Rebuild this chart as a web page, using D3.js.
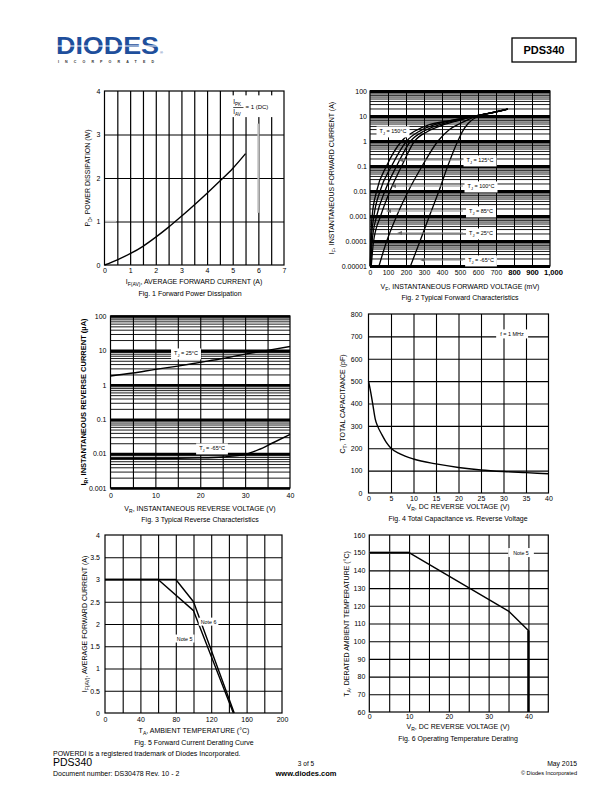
<!DOCTYPE html>
<html><head><meta charset="utf-8">
<script src="https://cdn.jsdelivr.net/npm/d3@7"></script>
<style>body{margin:0;background:#fff} svg{display:block} text{font-family:"Liberation Sans",Arial,Helvetica,sans-serif}</style>
</head><body><svg id="c" width="612" height="792"></svg>
<script>
// ---------------- DATA ----------------
// Fig 1
const fig1Current = [0, 0.5, 1, 1.5, 2, 2.5, 3, 3.5, 4, 4.5, 5, 5.5];
const fig1Power   = [0, 0.12, 0.26, 0.43, 0.64, 0.87, 1.12, 1.38, 1.65, 1.93, 2.22, 2.56];
const fig1XTicks = ["0","1","2","3","4","5","6","7"];
const fig1YTicks = ["0","1","2","3","4"];
// Fig 2  [mV, A]
const fig2Tj150 = [[1,1e-5],[4,1e-4],[12,1e-3],[37,0.01],[92,0.1],[176,1],[250,2.5],[330,4.5],[444,6.5],[550,9],[650,12.5],[765,19]];
const fig2Tj125 = [[2,1e-5],[7,1e-4],[22,1e-3],[56,0.01],[120,0.1],[204,1],[280,2.6],[360,4.5],[460,6.8],[560,9.3],[660,12.8],[765,19]];
const fig2Tj100 = [[4,1e-5],[12,1e-4],[37,1e-3],[83,0.01],[148,0.1],[226,1],[300,2.5],[380,4.3],[470,6.5],[570,9.5],[665,13],[765,19]];
const fig2Tj85  = [[7,1e-5],[20,1e-4],[59,1e-3],[111,0.01],[176,0.1],[248,1],[320,2.4],[400,4.2],[480,6.3],[580,9.6],[670,13.2],[765,19]];
const fig2Tj25  = [[50,1e-5],[93,1e-4],[148,1e-3],[213,0.01],[290,0.1],[378,1],[440,2.8],[500,5],[590,9.7],[680,13.5],[765,19]];
const fig2TjM65 = [[225,1e-5],[278,1e-4],[330,1e-3],[383,0.01],[432,0.1],[488,1],[515,2.5],[545,5],[600,9.8],[690,14],[765,19]];
const fig2XTicks = ["0","100","200","300","400","500","600","700","800","900","1,000"];
const fig2YTicks = ["0.00001","0.0001","0.001","0.01","0.1","1","10","100"];
// Fig 3
const fig3Voltage = [0, 5, 10, 15, 20, 25, 30, 35, 40];
const fig3Tj25  = [1.8, 2.2, 2.8, 3.5, 4.5, 5.8, 7.8, 10, 13];
const fig3VoltageM65 = [0, 10, 20, 25, 30, 33, 36, 40];
const fig3TjM65 = [0.0072, 0.0072, 0.0075, 0.008, 0.0095, 0.013, 0.02, 0.036];
const fig3XTicks = ["0","10","20","30","40"];
const fig3YTicks = ["0.001","0.01","0.1","1","10","100"];
// Fig 4
const fig4Voltage = [0, 0.5, 1, 1.5, 2, 3, 4, 5, 7, 10, 15, 20, 25, 30, 35, 40];
const fig4Cap     = [500, 450, 390, 330, 300, 260, 225, 200, 175, 152, 130, 114, 103, 96, 91, 86];
const fig4XTicks = ["0","5","10","15","20","25","30","35","40"];
const fig4YTicks = ["0","100","200","300","400","500","600","700","800"];
// Fig 5
const fig5Note6Temp = [0, 80, 100, 146];
const fig5Note6Curr = [3, 3, 2.5, 0];
const fig5Note5Temp = [0, 60, 100, 145];
const fig5Note5Curr = [3, 3, 2.3, 0];
const fig5XTicks = ["0","40","80","120","160","200"];
const fig5YTicks = ["0","0.5","1","1.5","2","2.5","3","3.5","4"];
// Fig 6
const fig6Voltage = [0, 10, 35, 40, 40];
const fig6Temp    = [150, 150, 117, 106, 60];
const fig6XTicks = ["0","10","20","30","40"];
const fig6YTicks = ["60","70","80","90","100","110","120","130","140","150","160"];

// ---------------- HELPERS ----------------
const FONT = '"Liberation Sans", Arial, Helvetica, sans-serif';
const svg = d3.select("#c");

function txt(g, x, y, parts, o = {}) {
  const size = o.size || 7;
  const t = g.append("text").attr("x", x).attr("y", y)
    .attr("font-size", size).attr("text-anchor", o.anchor || "start")
    .attr("font-weight", o.weight || "normal").attr("fill", o.fill || "#000")
    .attr("font-family", FONT);
  if (o.rotate) t.attr("transform", `rotate(${o.rotate},${x},${y})`);
  if (typeof parts === "string") parts = [[parts]];
  let shifted = false;
  parts.forEach(([s, sub]) => {
    const ts = t.append("tspan").text(s);
    if (sub) { ts.attr("font-size", size * 0.72); if (!shifted) { ts.attr("dy", 2); shifted = true; } }
    else if (shifted) { ts.attr("dy", -2); shifted = false; }
  });
  return t;
}
function boxLabel(g, cx, cy, parts, size, padX = 3, padY = 1.5) {
  const t = txt(g, cx, cy + size * 0.35, parts, { size, anchor: "middle" });
  const bb = t.node().getBBox();
  g.insert("rect", () => t.node()).attr("x", bb.x - padX).attr("y", bb.y - padY)
    .attr("width", bb.width + 2 * padX).attr("height", bb.height + 2 * padY).attr("fill", "#fff");
  return t;
}
function gridX(g, x, y, vals, w) {
  const [b, t] = y.range();
  const a = g.append("g").attr("transform", `translate(0,${b})`)
    .call(d3.axisBottom(x).tickValues(vals).tickSize(-(b - t)).tickFormat(""));
  a.select(".domain").remove();
  a.selectAll("line").attr("stroke", "#000").attr("stroke-width", w);
}
function gridY(g, x, y, vals, w) {
  const [l, r] = x.range();
  const a = g.append("g").attr("transform", `translate(${l},0)`)
    .call(d3.axisLeft(y).tickValues(vals).tickSize(-(r - l)).tickFormat(""));
  a.select(".domain").remove();
  a.selectAll("line").attr("stroke", "#000").attr("stroke-width", w);
}
function labelsX(g, x, y, vals, fmt, size, pad) {
  const b = y.range()[0];
  const a = g.append("g").attr("transform", `translate(0,${b})`)
    .call(d3.axisBottom(x).tickValues(vals).tickSize(0).tickPadding(pad).tickFormat((d, i) => fmt[i]));
  a.select(".domain").remove();
  a.selectAll("text").attr("font-size", size).attr("font-family", FONT).attr("fill", "#000");
  return a;
}
function labelsY(g, x, y, vals, fmt, size, pad) {
  const l = x.range()[0];
  const a = g.append("g").attr("transform", `translate(${l},0)`)
    .call(d3.axisLeft(y).tickValues(vals).tickSize(0).tickPadding(pad).tickFormat((d, i) => fmt[i]));
  a.select(".domain").remove();
  a.selectAll("text").attr("font-size", size).attr("font-family", FONT).attr("fill", "#000");
  return a;
}
function frame(g, x, y, w) {
  const [l, r] = x.range(), [b, t] = y.range();
  g.append("rect").attr("x", l).attr("y", t).attr("width", r - l).attr("height", b - t)
    .attr("fill", "none").attr("stroke", "#000").attr("stroke-width", w);
}
function logGrid(lo, hi) {
  const minor = [], major = [];
  for (let e = Math.round(Math.log10(lo)); e <= Math.round(Math.log10(hi)); e++) {
    major.push(Math.pow(10, e));
    if (e < Math.round(Math.log10(hi))) for (let k = 2; k <= 9; k++) minor.push(k * Math.pow(10, e));
  }
  return { minor, major };
}
function curve(g, x, y, xs, ys, w, c = "#000", cv = d3.curveMonotoneX) {
  const pts = xs.map((v, i) => [v, ys[i]]);
  g.append("path").datum(pts).attr("fill", "none").attr("stroke", c).attr("stroke-width", w)
    .attr("stroke-linejoin", "round")
    .attr("d", d3.line().x(d => x(d[0])).y(d => y(d[1])).curve(cv));
}

// ---------------- HEADER ----------------
const hdr = svg.append("g");
hdr.append("text").attr("x", 56).attr("y", 54).attr("font-size", 24).attr("font-weight", "bold")
  .attr("font-family", FONT).attr("fill", "#1f4f9c").attr("textLength", 103).attr("lengthAdjust", "spacingAndGlyphs")
  .text("DIODES");
hdr.append("line").attr("x1", 55).attr("x2", 160).attr("y1", 46).attr("y2", 46).attr("stroke", "#fff").attr("stroke-width", 1.2);
hdr.append("text").attr("x", 160).attr("y", 54).attr("font-size", 4).attr("fill", "#1f4f9c").attr("font-family", FONT).text("®");
hdr.append("text").attr("x", 58).attr("y", 62.5).attr("font-size", 3.6).attr("font-weight", "bold").attr("fill", "#333")
  .attr("font-family", FONT).attr("textLength", 96).attr("lengthAdjust", "spacing").text("INCORPORATED");
hdr.append("rect").attr("x", 512).attr("y", 38).attr("width", 64).attr("height", 24)
  .attr("fill", "none").attr("stroke", "#000").attr("stroke-width", 1.3);
txt(hdr, 544, 54, "PDS340", { size: 11, anchor: "middle", weight: "bold" });

// ---------------- FIG 1 ----------------
{
  const g = svg.append("g");
  const x = d3.scaleLinear().domain([0, 7]).range([104.5, 284]);
  const y = d3.scaleLinear().domain([0, 4]).range([265, 91]);
  gridX(g, x, y, d3.range(0.5, 7, 0.5), 1.2);
  gridY(g, x, y, [1, 2, 3], 1);
  g.append("line").attr("x1", x(6)).attr("x2", x(6)).attr("y1", y(1.2)).attr("y2", y(3.25)).attr("stroke", "#bbb").attr("stroke-width", 2);
  g.append("line").attr("x1", x(0)).attr("x2", x(0.45)).attr("y1", y(1)).attr("y2", y(1)).attr("stroke", "#bbb").attr("stroke-width", 1.5);
  frame(g, x, y, 1.2);
  curve(g, x, y, fig1Current, fig1Power, 1.4);
  // legend fraction
  const lg = g.append("g");
  lg.append("rect").attr("x", x(4.95)).attr("y", y(3.9)).attr("width", x(6.65) - x(4.95)).attr("height", y(3.4) - y(3.9)).attr("fill", "#fff");
  txt(lg, x(5.02), y(3.7), [["I"], ["PK", 1]], { size: 6.3 });
  lg.append("line").attr("x1", x(5.02)).attr("x2", x(5.42)).attr("y1", y(3.62)).attr("y2", y(3.62)).attr("stroke", "#000").attr("stroke-width", 0.7);
  txt(lg, x(5.02), y(3.47), [["I"], ["AV", 1]], { size: 6.3 });
  txt(lg, x(5.5), y(3.58), "= 1 (DC)", { size: 6 });
  labelsX(g, x, y, d3.range(0, 8), fig1XTicks, 7, 3);
  labelsY(g, x, y, d3.range(0, 5), fig1YTicks, 7, 4);
  txt(g, 194, 284, [["I"], ["F(AV)", 1], [", AVERAGE FORWARD CURRENT (A)"]], { size: 7, anchor: "middle" });
  txt(g, 90, 178, [["P"], ["D", 1], [", POWER DISSIPATION (W)"]], { size: 7, anchor: "middle", rotate: -90 });
  txt(g, 190, 296, "Fig. 1  Forward Power Dissipation", { size: 7, anchor: "middle" });
}

// ---------------- FIG 2 ----------------
{
  const g = svg.append("g");
  const x = d3.scaleLinear().domain([0, 1000]).range([370, 550]);
  const y = d3.scaleLog().domain([1e-5, 100]).range([266, 91]);
  const lgd = logGrid(1e-5, 100);
  gridX(g, x, y, d3.range(100, 1000, 100), 1);
  gridY(g, x, y, lgd.minor, 0.9);
  gridY(g, x, y, lgd.major, 2.8);
  frame(g, x, y, 1.2);
  [fig2Tj150, fig2Tj125, fig2Tj100, fig2Tj85, fig2Tj25, fig2TjM65].forEach(c =>
    curve(g, x, y, c.map(d => d[0]), c.map(d => d[1]), 1.3));
  const ann = [
    ["150", 393, 131, null],
    ["125", 480, 160, 398],
    ["100", 481, 186, 391],
    ["85", 481, 211, 386],
    ["25", 481, 233, 397],
    ["-65", 481, 260, 420]
  ];
  ann.forEach(([t, cx, cy, tip]) => {
    if (tip !== null) {
      g.append("line").attr("x1", tip + 3).attr("x2", cx - 18).attr("y1", cy).attr("y2", cy).attr("stroke", "#888").attr("stroke-width", 1.2);
      g.append("path").attr("d", `M${tip},${cy} l5,-2 l0,4 z`).attr("fill", "#666");
    }
    boxLabel(g, cx, cy, [["T"], ["J", 1], [` = ${t}°C`]], 5.5, 3, 1.5);
  });
  const ax = labelsX(g, x, y, d3.range(0, 1001, 100), fig2XTicks, 6.8, 4);
  ax.selectAll("text").filter((d) => d >= 800).attr("font-size", 7.6).attr("font-weight", "bold");
  ax.selectAll("text").filter((d) => d === 1000).attr("dx", 3);
  labelsY(g, x, y, lgd.major, fig2YTicks, 7, 3);
  txt(g, 460, 289, [["V"], ["F", 1], [", INSTANTANEOUS FORWARD VOLTAGE (mV)"]], { size: 7, anchor: "middle" });
  txt(g, 334, 178, [["I"], ["F", 1], [", INSTANTANEOUS FORWARD CURRENT (A)"]], { size: 7, anchor: "middle", rotate: -90 });
  txt(g, 460, 300, "Fig. 2  Typical Forward Characteristics", { size: 7, anchor: "middle" });
}

// ---------------- FIG 3 ----------------
{
  const g = svg.append("g");
  const x = d3.scaleLinear().domain([0, 40]).range([110.5, 290]);
  const y = d3.scaleLog().domain([1e-3, 100]).range([488, 316]);
  const lgd = logGrid(1e-3, 100);
  gridX(g, x, y, d3.range(5, 40, 5), 1.1);
  gridY(g, x, y, lgd.minor, 0.9);
  gridY(g, x, y, lgd.major, 2.6);
  frame(g, x, y, 1.2);
  curve(g, x, y, fig3Voltage, fig3Tj25, 1.4);
  curve(g, x, y, fig3VoltageM65, fig3TjM65, 1.4);
  boxLabel(g, 186, 353, [["T"], ["J", 1], [" = 25°C"]], 5.5, 3, 1.5);
  boxLabel(g, 212, 448, [["T"], ["J", 1], [" = -65°C"]], 5.5, 3, 1.5);
  labelsX(g, x, y, [0, 10, 20, 30, 40], fig3XTicks, 7, 5);
  labelsY(g, x, y, lgd.major, fig3YTicks, 7, 4);
  txt(g, 200, 511, [["V"], ["R", 1], [", INSTANTANEOUS REVERSE VOLTAGE (V)"]], { size: 7, anchor: "middle" });
  txt(g, 86, 402, [["I"], ["R", 1], [", INSTANTANEOUS REVERSE CURRENT (µA)"]], { size: 7.5, anchor: "middle", rotate: -90, weight: "bold" });
  txt(g, 200, 522, "Fig. 3 Typical Reverse Characteristics", { size: 7, anchor: "middle" });
}

// ---------------- FIG 4 ----------------
{
  const g = svg.append("g");
  const x = d3.scaleLinear().domain([0, 40]).range([368.5, 548.5]);
  const y = d3.scaleLinear().domain([0, 800]).range([493, 314]);
  gridX(g, x, y, d3.range(5, 40, 5), 1.1);
  gridY(g, x, y, d3.range(100, 800, 100), 1.1);
  frame(g, x, y, 1.2);
  curve(g, x, y, fig4Voltage, fig4Cap, 1.4);
  boxLabel(g, 512, 334, "f = 1 MHz", 5.5, 4, 1.5);
  labelsX(g, x, y, d3.range(0, 41, 5), fig4XTicks, 7, 3);
  labelsY(g, x, y, d3.range(0, 801, 100), fig4YTicks, 7, 6);
  txt(g, 458, 509, [["V"], ["R", 1], [", DC REVERSE VOLTAGE (V)"]], { size: 7, anchor: "middle" });
  txt(g, 345, 404, [["C"], ["T", 1], [", TOTAL CAPACITANCE (pF)"]], { size: 7, anchor: "middle", rotate: -90 });
  txt(g, 458, 521, "Fig. 4 Total Capacitance vs. Reverse Voltage", { size: 7, anchor: "middle" });
}

// ---------------- FIG 5 ----------------
{
  const g = svg.append("g");
  const x = d3.scaleLinear().domain([0, 200]).range([105, 282]);
  const y = d3.scaleLinear().domain([0, 4]).range([713, 535]);
  gridX(g, x, y, d3.range(20, 200, 20), 1.1);
  gridY(g, x, y, d3.range(0.5, 4, 0.5), 1.1);
  frame(g, x, y, 1.2);
  curve(g, x, y, fig5Note6Temp, fig5Note6Curr, 1.4, "#000", d3.curveLinear);
  curve(g, x, y, fig5Note5Temp, fig5Note5Curr, 1.4, "#000", d3.curveLinear);
  boxLabel(g, x(117), y(2.05), "Note 6", 5.3, 2, 1);
  boxLabel(g, x(90), y(1.67), "Note 5", 5.3, 2, 1);
  labelsX(g, x, y, d3.range(0, 201, 40), fig5XTicks, 7, 4);
  labelsY(g, x, y, d3.range(0, 4.01, 0.5), fig5YTicks, 7, 5);
  txt(g, 194, 733, [["T"], ["A", 1], [", AMBIENT TEMPERATURE ("], ["°C"], [")"]], { size: 7, anchor: "middle" });
  txt(g, 87, 624, [["I"], ["F(AV)", 1], [", AVERAGE FORWARD CURRENT (A)"]], { size: 7, anchor: "middle", rotate: -90 });
  txt(g, 194, 745, "Fig. 5  Forward Current Derating Curve", { size: 7, anchor: "middle" });
}

// ---------------- FIG 6 ----------------
{
  const g = svg.append("g");
  const x = d3.scaleLinear().domain([0, 45]).range([369.3, 548.3]);
  const y = d3.scaleLinear().domain([60, 160]).range([712, 535]);
  gridX(g, x, y, d3.range(5, 45, 5), 1.1);
  gridY(g, x, y, d3.range(70, 160, 10), 1.1);
  frame(g, x, y, 1.2);
  g.append("line").attr("x1", x(0)).attr("x2", x(10)).attr("y1", y(150)).attr("y2", y(150)).attr("stroke", "#555").attr("stroke-width", 2.4);
  curve(g, x, y, fig6Voltage, fig6Temp, 1.4, "#000", d3.curveLinear);
  g.append("line").attr("x1", x(40)).attr("x2", x(40)).attr("y1", y(106)).attr("y2", y(60)).attr("stroke", "#000").attr("stroke-width", 2.2);
  boxLabel(g, 521, y(150), "Note 5", 5.3, 5, 1.5);
  labelsX(g, x, y, [0, 10, 20, 30, 40], fig6XTicks, 7, 2);
  labelsY(g, x, y, d3.range(60, 161, 10), fig6YTicks, 7, 4);
  txt(g, 458, 729, [["V"], ["R", 1], [", DC REVERSE VOLTAGE (V)"]], { size: 7, anchor: "middle" });
  txt(g, 349, 624, [["T"], ["A", 1], [", DERATED AMBIENT TEMPERATURE ("], ["°C"], [")"]], { size: 7, anchor: "middle", rotate: -90 });
  txt(g, 458, 741, "Fig. 6  Operating Temperature Derating", { size: 7, anchor: "middle" });
}

// ---------------- FOOTER ----------------
{
  const g = svg.append("g");
  txt(g, 53, 756, "POWERDI is a registered trademark of Diodes Incorporated.", { size: 7 });
  txt(g, 53, 766, "PDS340", { size: 10.5 });
  txt(g, 53, 776, "Document number: DS30478 Rev. 10 - 2", { size: 7 });
  txt(g, 306, 766, "3 of 5", { size: 6.5, anchor: "middle" });
  txt(g, 306, 776, "www.diodes.com", { size: 7.5, anchor: "middle", weight: "bold" });
  txt(g, 577, 766, "May 2015", { size: 6.8, anchor: "end" });
  txt(g, 577, 775, "© Diodes Incorporated", { size: 5.6, anchor: "end" });
}
</script></body></html>
